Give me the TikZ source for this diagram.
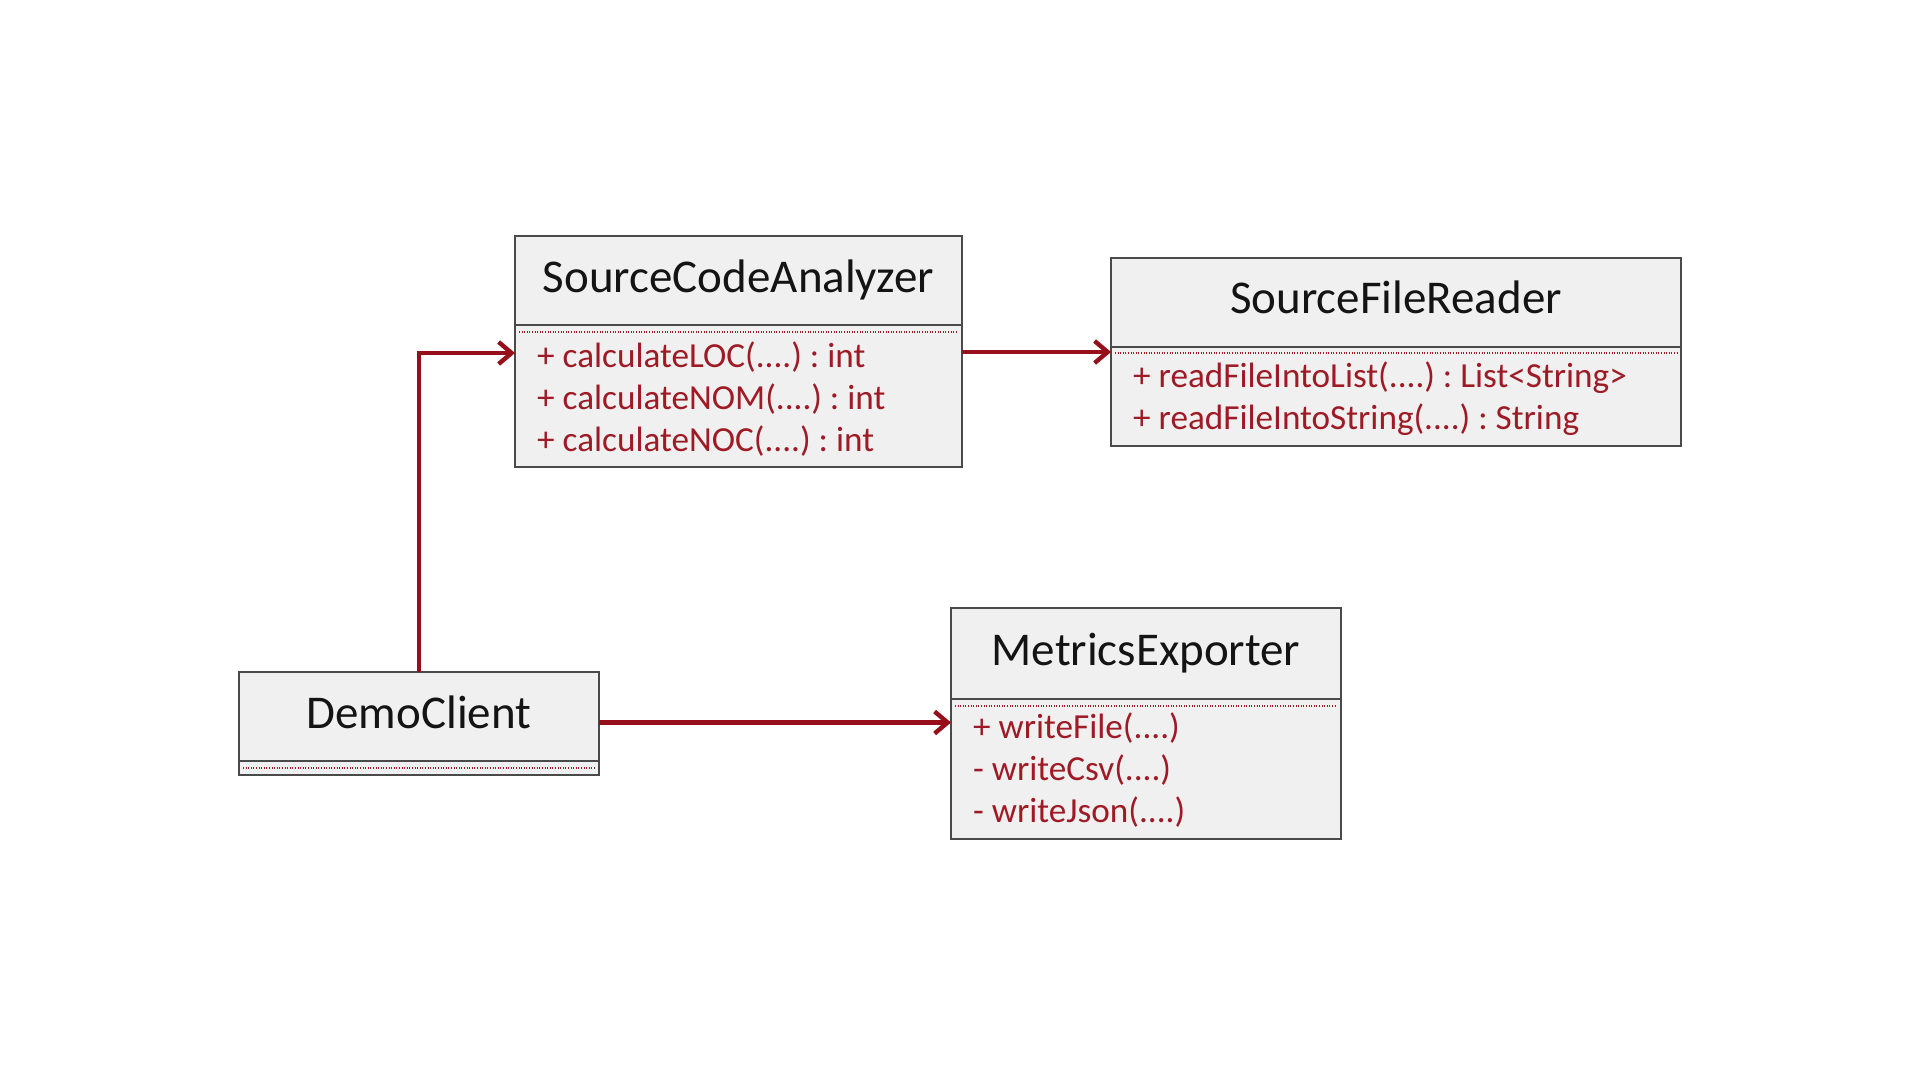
\documentclass[tikz,border=0pt]{standalone}
\usepackage{fontspec}
\setmainfont{Carlito}
\usetikzlibrary{arrows.meta}
\definecolor{umlred}{HTML}{9E1B26}
\definecolor{arrred}{HTML}{980F1C}
\definecolor{boxfill}{HTML}{F0F0F0}
\definecolor{boxline}{HTML}{4A4A4A}
\frenchspacing
\begin{document}
\begin{tikzpicture}[x=1pt,y=-1pt,
 cls/.style={draw=boxline, line width=2pt, fill=boxfill, inner sep=0pt, outer sep=0pt, anchor=north west},
 ttl/.style={anchor=base, font=\fontsize{47}{56}\selectfont, text=black!92, inner sep=0pt},
 mth/.style={anchor=base west, font=\fontsize{35.2}{42}\selectfont, text=umlred, inner sep=0pt},
 sepline/.style={draw=umlred, line width=1.2pt, dash pattern=on 1pt off 1.6pt},
 arr/.style={draw=arrred, line width=4.4pt, -{Straight Barb[length=13pt,width=22pt,line width=4.4pt]}}]
\useasboundingbox[fill=white] (0,0) rectangle (1920,1080);

% SourceCodeAnalyzer
\node[cls, minimum width=447pt, minimum height=89pt] (scah) at (515,236) {};
\node[cls, minimum width=447pt, minimum height=142pt] (scab) at (515,325) {};
\draw[sepline] ([xshift=4pt,yshift=-7pt]scab.north west) -- ([xshift=-4pt,yshift=-7pt]scab.north east);
\node[ttl] (scat) at (738.5,292) {SourceCodeAnalyzer};
\node[mth] (sca1) at (537,367) {+ calculateLOC(....) : int};
\node[mth] (sca2) at (537,409) {+ calculateNOM(....) : int};
\node[mth] (sca3) at (537,451) {+ calculateNOC(....) : int};

% SourceFileReader
\node[cls, minimum width=570pt, minimum height=89pt] (sfrh) at (1111,258) {};
\node[cls, minimum width=570pt, minimum height=99pt] (sfrb) at (1111,347) {};
\draw[sepline] ([xshift=4pt,yshift=-6pt]sfrb.north west) -- ([xshift=-4pt,yshift=-6pt]sfrb.north east);
\node[ttl] (sfrt) at (1396,313) {SourceFileReader};
\node[mth] (sfr1) at (1133,387) {+ readFileIntoList(....) : List<String>};
\node[mth] (sfr2) at (1133,429) {+ readFileIntoString(....) : String};

% MetricsExporter
\node[cls, minimum width=390pt, minimum height=91pt] (meh) at (951,608) {};
\node[cls, minimum width=390pt, minimum height=140pt] (meb) at (951,699) {};
\draw[sepline] ([xshift=4pt,yshift=-7pt]meb.north west) -- ([xshift=-4pt,yshift=-7pt]meb.north east);
\node[ttl] (met) at (1146,665) {MetricsExporter};
\node[mth] (me1) at (973,738) {+ writeFile(....)};
\node[mth] (me2) at (973,780) {- writeCsv(....)};
\node[mth] (me3) at (973,822) {- writeJson(....)};

% DemoClient
\node[cls, minimum width=360pt, minimum height=89pt] (dch) at (239,672) {};
\node[cls, minimum width=360pt, minimum height=14pt] (dcb) at (239,761) {};
\draw[sepline] ([xshift=4pt,yshift=-7pt]dcb.north west) -- ([xshift=-4pt,yshift=-7pt]dcb.north east);
\node[ttl] (dct) at (419,728) {DemoClient};

% connectors
\draw[arr] (dch.north) |- ([yshift=-28pt]scab.north west);
\draw[arr] ([yshift=-27pt]scab.north east) coordinate (a1) -- (a1 -| sfrb.west);
\draw[arr] ([yshift=-6pt]dch.east) coordinate (a2) -- (a2 -| meb.west);
\end{tikzpicture}
\end{document}
